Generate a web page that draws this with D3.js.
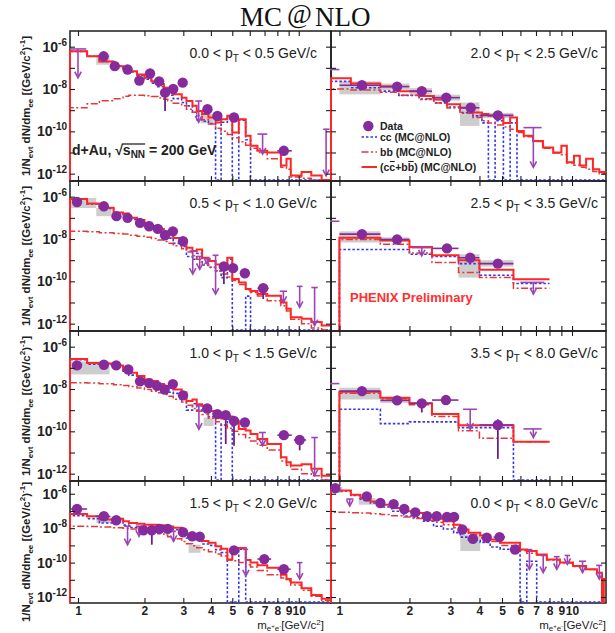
<!DOCTYPE html>
<html>
<head>
<meta charset="utf-8">
<script src="https://cdn.jsdelivr.net/npm/d3@7/dist/d3.min.js"></script>
<style>
  html, body { margin: 0; padding: 0; background: #fff; }
  svg { display: block; }
  svg text { font-family: "Liberation Sans", Arial, Helvetica, sans-serif; fill: #222; }
</style>
</head>
<body>
<svg id="chart" width="615" height="633"></svg>
<script>
// ---------------- axes ----------------
const massRange = [0.92, 14];
const yieldRange = [4.5e-13, 5.5e-6];
const massTicks = [1, 2, 3, 4, 5, 6, 7, 8, 9, 10];
const decadeTicks = [1e-12, 1e-11, 1e-10, 1e-9, 1e-8, 1e-7, 1e-6];
const labelledDecades = [1e-6, 1e-8, 1e-10, 1e-12];

// pT ranges, reading order (left/right, top to bottom)
const ptBins = [["0.0", "0.5"], ["2.0", "2.5"], ["0.5", "1.0"], ["2.5", "3.5"],
                ["1.0", "1.5"], ["3.5", "8.0"], ["1.5", "2.0"], ["0.0", "8.0"]];

// ---------------- MC histogram binning (GeV/c^2) ----------------
const leftEdges = [0.92, 1.1, 1.25, 1.45, 1.6, 1.7, 1.85, 2.0, 2.15, 2.3, 2.45, 2.55, 2.7, 2.95, 3.1, 3.3, 3.45,
                   3.65, 3.9, 4.2, 4.45, 4.75, 5.0, 5.35, 5.75, 6.05, 6.5, 7.2, 8.3, 8.8, 9.2, 10.3, 11.4, 12.7, 14];
const pt2Edges = [0.92, 1.12, 1.5, 1.8, 2.2, 2.55, 2.9, 3.3, 3.75, 4.1, 4.37, 4.67, 5.07, 5.42, 5.8, 6.2, 6.8,
                  7.5, 8.3, 9.0, 9.5, 10.2, 10.8, 11.5, 12.3, 13.1, 14];
const coarseEdges = [1.0, 1.5, 2.0, 2.5, 3.25, 4.0, 5.6, 8.0];
const pt8Edges = [0.92, 1.12, 1.23, 1.36, 1.5, 1.68, 1.89, 2.08, 2.3, 2.54, 2.8, 3.1, 3.31, 3.59, 4.03, 4.45,
                  4.91, 5.98, 6.39, 7.05, 7.79, 8.87, 10.1, 11.5, 12.8, 13.45, 13.7, 14];

// ---------------- 0.0 < pT < 0.5 ----------------
const pt1Sum = [6.0e-7, 3.5e-7, 2.0e-7, 1.2e-7, 1.0e-7, 6.9e-8, 4.9e-8, 3.4e-8, 2.3e-8, 1.7e-8,
                1.15e-8, 7.9e-9, 5.6e-9, 3.9e-9, 2.7e-9, 1.6e-9, 9.1e-10, 6.5e-10, 4.5e-10, 2.6e-10,
                3.7e-10, 5.4e-10, 8.9e-11, 3.7e-10, 6.2e-11, 2.1e-11, 1.2e-11, 1.0e-11, 2.4e-12, 5.0e-12,
                8.1e-13, 1.2e-12, 8.1e-13, 0];
const pt1Cc = [6.0e-7, 3.5e-7, 2.0e-7, 1.2e-7, 9.5e-8, 6.4e-8, 4.4e-8, 2.9e-8, 1.9e-8, 1.3e-8,
               8.2e-9, 5.1e-9, 3.5e-9, 2.3e-9, 1.6e-9, 8.0e-10, 3.5e-10, 3.0e-10, 2.3e-10, 0,
               2.7e-10, 4.7e-10, 0, 3.4e-10, 4.0e-11, 0, 0, 0, 0, 0, 0, 0, 0, 0];
const pt1Bb = [1.3e-9, 2.0e-9, 2.8e-9, 3.5e-9, 4.5e-9, 5.0e-9, 5.0e-9, 4.8e-9, 4.4e-9, 3.8e-9,
               3.3e-9, 2.8e-9, 2.1e-9, 1.6e-9, 1.1e-9, 7.9e-10, 5.6e-10, 3.5e-10, 2.2e-10, 1.4e-10,
               1.0e-10, 7.1e-11, 5.0e-11, 3.2e-11, 2.2e-11, 1.6e-11, 1.0e-11, 5.0e-12, 2.0e-12, 1.6e-12,
               7.0e-13, 6.0e-13, 4.0e-13, 2.0e-13];
// [mass, yield, xLow, xHigh, errLow, errHigh]
const pt1Points = [[1.307, 3.5e-7], [1.468, 1.2e-7], [1.677, 8.3e-8], [1.896, 2.5e-8], [2.12, 5.4e-8],
                   [2.33, 2.3e-8], [2.48, 6.7e-9, null, null, 9.1e-10, 1.0e-8], [2.70, 1.0e-8], [2.98, 2.0e-8],
                   [3.86, 1.1e-9], [4.28, 5.3e-10], [5.09, 4.5e-10], [8.56, 1.2e-11, 8.0, 9.3]];
// [mass, capLow, capHigh, limit, arrowTip]
const pt1Limits = [[1.0, 0.92, 1.09, 7.8e-7, 3.4e-8], [3.52, 3.4, 3.65, 2.7e-9, 2.7e-10],
                   [6.86, 6.5, 7.2, 7.4e-11, 8.5e-12], [13.3, 12.9, 13.8, 1.26e-10, 8.0e-13]];
// [massLow, massHigh, yieldLow, yieldHigh]
const pt1Sys = [[1.21, 1.39, 1.4e-7, 4.2e-7], [3.59, 4.12, 2.4e-10, 6.5e-10]];

// ---------------- 2.0 < pT < 2.5 ----------------
const pt2Sum = [3.2e-8, 1.8e-8, 1.3e-8, 7.9e-9, 4.7e-9, 3.2e-9, 1.9e-9, 1.3e-9, 7.8e-10, 6.5e-10,
                5.4e-10, 4.5e-10, 2.5e-10, 4.5e-10, 1.05e-10, 6.2e-11, 3.5e-11, 1.7e-11, 1.0e-11, 2.1e-11,
                3.5e-12, 7.1e-12, 2.4e-12, 5.0e-12, 1.6e-12, 1.2e-12];
const pt2Cc = [2.3e-8, 1.15e-8, 7.9e-9, 5.0e-9, 3.2e-9, 2.2e-9, 1.4e-9, 7.8e-10, 5.4e-10, 2.5e-10,
               0, 3.2e-10, 0, 2.5e-10, 0, 0, 0, 0, 0, 0, 0, 0, 0, 0, 0, 0];
const pt2Bb = [1.0e-8, 8.9e-9, 7.1e-9, 5.0e-9, 3.5e-9, 2.2e-9, 1.26e-9, 7.1e-10, 4.5e-10, 3.2e-10,
               2.5e-10, 2.0e-10, 1.6e-10, 1.26e-10, 8.9e-11, 5.6e-11, 3.3e-11, 1.6e-11, 9.5e-12, 7.9e-12,
               3.2e-12, 2.5e-12, 2.0e-12, 1.6e-12, 1.26e-12, 1.0e-12];
const pt2Points = [[1.25, 1.5e-8, 1.0, 1.5], [1.77, 1.3e-8, 1.5, 2.0], [2.26, 7.9e-9, 2.0, 2.5],
                   [2.88, 3.9e-9, 2.5, 3.3], [3.67, 1.3e-9, 3.3, 4.0], [4.8, 5.7e-10, 4.0, 5.6]];
const pt2Limits = [[0.88, 0.8, 1.0, 8.3e-8, 8.3e-8], [6.82, 6.18, 7.4, 1.5e-10, 2.0e-12]];
const pt2Sys = [[1.0, 1.5, 5.6e-9, 2.3e-8], [1.5, 2.0, 9.0e-9, 1.8e-8], [2.0, 2.5, 5.5e-9, 1.1e-8],
                [2.5, 3.3, 2.8e-9, 5.4e-9], [3.3, 4.0, 1.8e-10, 2.3e-9], [4.0, 5.6, 4.2e-10, 7.5e-10]];

// ---------------- 0.5 < pT < 1.0 ----------------
const pt3Sum = [7.8e-7, 4.7e-7, 3.0e-7, 1.8e-7, 1.6e-7, 1.0e-7, 7.8e-8, 5.8e-8, 4.1e-8, 3.0e-8,
                2.3e-8, 1.7e-8, 1.1e-8, 7.9e-9, 3.9e-9, 2.7e-9, 3.2e-9, 1.3e-9, 9.1e-10, 6.3e-10,
                3.7e-10, 1.3e-9, 1.3e-10, 8.9e-11, 4.4e-11, 3.5e-11, 2.5e-11, 2.1e-11, 1.0e-11, 5.0e-12,
                2.0e-12, 1.7e-12, 1.2e-12, 8.1e-13];
const pt3Cc = [7.6e-7, 4.5e-7, 2.8e-7, 1.6e-7, 1.4e-7, 8.5e-8, 6.5e-8, 4.6e-8, 3.0e-8, 2.1e-8,
               1.5e-8, 1.1e-8, 6.2e-9, 4.4e-9, 1.5e-9, 1.1e-9, 2.1e-9, 5.9e-10, 4.6e-10, 3.1e-10,
               1.5e-10, 1.1e-9, 0, 0, 2.0e-11, 0, 0, 0, 0, 0, 0, 0, 0, 0];
const pt3Bb = [2.3e-8, 2.2e-8, 2.0e-8, 1.8e-8, 1.7e-8, 1.5e-8, 1.35e-8, 1.2e-8, 1.05e-8, 8.9e-9,
               7.6e-9, 6.3e-9, 4.8e-9, 3.5e-9, 2.4e-9, 1.6e-9, 1.1e-9, 7.1e-10, 4.5e-10, 3.2e-10,
               2.2e-10, 1.6e-10, 1.1e-10, 7.0e-11, 4.0e-11, 3.0e-11, 2.0e-11, 1.2e-11, 7.0e-12, 4.0e-12,
               1.6e-12, 1.0e-12, 6.3e-13, 4.0e-13];
const pt3Points = [[0.99, 5.6e-7], [1.31, 3.5e-7], [1.494, 1.2e-7], [1.677, 1.0e-7], [1.91, 5.8e-8],
                   [2.10, 4.0e-8], [2.30, 3.0e-8], [2.48, 1.5e-8], [2.69, 2.3e-8], [2.99, 7.9e-9],
                   [4.58, 5.0e-10, null, null, 7.4e-11, 7.5e-10], [5.04, 4.2e-10], [5.7, 2.4e-10],
                   [6.9, 4.7e-11, 6.5, 7.3, 1.45e-11, 7.0e-11]];
const pt3Limits = [[3.31, 3.2, 3.42, 2.7e-9, 2.2e-10], [3.56, 3.45, 3.67, 1.5e-9, 3.7e-10],
                   [3.85, 3.75, 3.95, 1.2e-9, 6.5e-10], [4.2, 4.07, 4.33, 1.7e-9, 2.5e-11],
                   [8.52, 8.2, 8.85, 3.4e-11, 1.0e-11], [10.1, 9.8, 10.4, 5.8e-11, 5.9e-12],
                   [11.8, 11.4, 12.2, 5.1e-11, 8.1e-13]];
const pt3Sys = [[0.93, 1.21, 2.9e-7, 8.7e-7], [1.21, 1.42, 1.2e-7, 2.9e-7]];

// ---------------- 2.5 < pT < 3.5 ----------------
const pt4Sum = [1.15e-8, 8.5e-9, 4.2e-9, 1.7e-9, 1.0e-9, 3.5e-10, 1.26e-10];
const pt4Cc = [3.2e-9, 3.2e-9, 1.9e-9, 1.5e-9, 6.9e-10, 1.95e-10, 7.9e-11];
const pt4Bb = [9.5e-9, 5.6e-9, 2.2e-9, 7.8e-10, 2.6e-10, 1.5e-10, 4.7e-11];
const pt4Points = [[1.25, 1.7e-8, 1.0, 1.5], [1.77, 9.5e-9, 1.5, 2.0], [2.9, 3.6e-9, 2.5, 3.25],
                   [3.65, 1.3e-9, 3.25, 4.0], [4.8, 6.9e-10, 4.0, 5.6]];
const pt4Limits = [[0.88, 0.8, 1.0, 6.9e-8, 6.9e-8], [2.26, 2.05, 2.5, 3.9e-9, 1.6e-9],
                   [6.82, 6.0, 7.6, 8.9e-11, 2.5e-11]];
const pt4Sys = [[1.0, 1.5, 6.8e-9, 2.3e-8], [1.5, 2.0, 7.5e-9, 1.2e-8], [3.25, 4.0, 1.5e-10, 1.9e-9],
                [4.0, 5.6, 5.0e-10, 1.0e-9]];

// ---------------- 1.0 < pT < 1.5 ----------------
const pt5Sum = [2.6e-7, 1.7e-7, 1.6e-7, 1.3e-7, 8.3e-8, 5.8e-8, 4.1e-8, 2.8e-8, 2.4e-8, 1.7e-8,
                1.4e-8, 1.15e-8, 9.5e-9, 6.8e-9, 2.7e-9, 3.2e-9, 1.9e-9, 1.6e-9, 9.1e-10, 5.8e-10,
                4.0e-10, 5.0e-10, 3.2e-10, 1.3e-10, 1.1e-10, 7.4e-11, 4.3e-11, 2.5e-11, 5.9e-12, 3.5e-12,
                2.4e-12, 2.8e-12, 1.7e-12, 7.9e-13];
const pt5Cc = [2.4e-7, 1.5e-7, 1.4e-7, 1.15e-7, 6.9e-8, 4.5e-8, 3.0e-8, 1.9e-8, 1.6e-8, 1.05e-8,
               8.5e-9, 7.0e-9, 6.2e-9, 4.4e-9, 1.0e-9, 2.0e-9, 1.0e-9, 9.7e-10, 4.9e-10, 0,
               2.0e-10, 3.6e-10, 0, 0, 0, 0, 0, 0, 0, 0, 0, 0, 0, 0];
const pt5Bb = [1.95e-8, 1.9e-8, 1.75e-8, 1.6e-8, 1.45e-8, 1.3e-8, 1.1e-8, 9.5e-9, 7.9e-9, 6.6e-9,
               5.5e-9, 4.5e-9, 3.3e-9, 2.4e-9, 1.7e-9, 1.2e-9, 8.9e-10, 6.3e-10, 4.2e-10, 2.8e-10,
               2.0e-10, 1.4e-10, 1.0e-10, 7.1e-11, 5.0e-11, 3.5e-11, 2.2e-11, 1.3e-11, 4.0e-12, 2.5e-12,
               1.6e-12, 1.0e-12, 7.9e-13, 5.0e-13];
const pt5Points = [[0.99, 1.3e-7], [1.31, 1.4e-7], [1.49, 1.3e-7], [1.69, 8.3e-8], [1.91, 2.3e-8],
                   [2.10, 1.9e-8], [2.28, 1.4e-8], [2.47, 9.5e-9], [2.69, 1.7e-8], [2.99, 5.0e-9],
                   [3.85, 1.2e-9], [4.28, 6.5e-10], [4.67, 5.8e-10, null, null, 2.5e-11, 8.0e-10],
                   [5.09, 3.1e-10, null, null, 2.1e-11, 4.5e-10], [5.7, 2.6e-10, 5.4, 6.0],
                   [8.56, 6.6e-11, 8.0, 9.3], [10.1, 3.9e-11, 9.5, 10.8, 1.26e-11, 6.0e-11]];
const pt5Limits = [[3.53, 3.42, 3.65, 1.6e-9, 1.26e-10], [6.86, 6.6, 7.1, 8.8e-11, 2.1e-11],
                   [11.8, 11.4, 12.2, 5.1e-11, 8.1e-13]];
const pt5Sys = [[0.93, 1.39, 4.9e-8, 2.0e-7], [3.71, 4.12, 1.8e-10, 4.5e-10]];

// ---------------- 3.5 < pT < 8.0 ----------------
const pt6Sum = [7.4e-9, 3.9e-9, 2.1e-9, 6.5e-10, 1.95e-10, 1.95e-10, 3.2e-11];
const pt6Cc = [1.1e-9, 2.3e-10, 2.8e-10, 2.8e-10, 1.5e-10, 1.5e-10, 0];
const pt6Bb = [6.3e-9, 3.5e-9, 1.8e-9, 5.0e-10, 1.07e-10, 4.7e-11, 3.2e-11];
const pt6Points = [[1.25, 7.9e-9, 1.0, 1.5], [1.77, 2.9e-9, 1.5, 2.0], [2.26, 2.1e-9, 2.0, 2.5, 7.8e-10, 3.0e-9],
                   [2.87, 3.0e-9, 2.5, 3.25], [4.8, 2.0e-10, 4.0, 5.6, 5.0e-12, 3.7e-10]];
const pt6Limits = [[0.88, 0.8, 1.0, 1.8e-8, 1.8e-8], [3.65, 3.4, 3.9, 1.1e-9, 1.26e-10],
                   [6.82, 6.18, 7.4, 1.3e-10, 5.1e-11]];
const pt6Sys = [[1.0, 1.5, 3.2e-9, 1.15e-8], [1.5, 2.0, 2.2e-9, 3.8e-9]];

// ---------------- 1.5 < pT < 2.0 ----------------
const pt7Sum = [6.6e-8, 4.9e-8, 3.2e-8, 3.5e-8, 2.5e-8, 2.0e-8, 1.8e-8, 1.6e-8, 1.6e-8, 1.5e-8,
                1.4e-8, 1.26e-8, 1.05e-8, 7.1e-9, 4.0e-9, 3.2e-9, 2.8e-9, 1.8e-9, 1.4e-9, 8.9e-10,
                6.3e-10, 1.5e-10, 6.3e-10, 7.1e-10, 1.4e-10, 1.0e-10, 7.1e-11, 5.0e-11, 2.0e-11, 1.1e-11,
                6.9e-12, 3.2e-12, 1.3e-12, 7.9e-13];
const pt7Cc = [5.3e-8, 3.6e-8, 2.0e-8, 2.4e-8, 1.5e-8, 1.1e-8, 1.0e-8, 9.1e-9, 1.0e-8, 1.0e-8,
               1.0e-8, 9.4e-9, 8.1e-9, 5.4e-9, 2.7e-9, 2.25e-9, 2.1e-9, 1.2e-9, 1.0e-9, 5.7e-10,
               3.9e-10, 0, 0, 6.1e-10, 0, 0, 0, 0, 0, 0, 0, 0, 0, 0];
const pt7Bb = [1.3e-8, 1.26e-8, 1.17e-8, 1.07e-8, 1.0e-8, 8.9e-9, 7.9e-9, 6.9e-9, 5.8e-9, 4.8e-9,
               4.0e-9, 3.2e-9, 2.4e-9, 1.7e-9, 1.26e-9, 9.5e-10, 7.4e-10, 5.6e-10, 4.2e-10, 3.2e-10,
               2.4e-10, 1.4e-10, 1.3e-10, 1.0e-10, 7.6e-11, 5.6e-11, 3.5e-11, 2.0e-11, 1.26e-11, 8.9e-12,
               5.0e-12, 2.5e-12, 1.1e-12, 6.3e-13];
const pt7Points = [[0.99, 1.3e-7, 0.93, 1.1], [1.31, 4.9e-8, 1.2, 1.4], [1.49, 2.9e-8], [1.98, 7.6e-9],
                   [2.16, 7.6e-9, null, null, 1.1e-9, 1.2e-8], [2.34, 9.1e-9], [2.55, 9.1e-9], [2.99, 5.8e-9],
                   [3.29, 3.4e-9], [3.56, 3.2e-9], [5.09, 5.1e-10], [6.98, 1.6e-10, 6.5, 7.5],
                   [8.56, 4.1e-11, 8.0, 9.2]];
const pt7Limits = [[1.677, 1.62, 1.74, 1.3e-8, 1.1e-9], [1.89, 1.83, 1.95, 1.3e-8, 3.4e-9],
                   [2.71, 2.64, 2.78, 6.6e-9, 1.7e-9], [5.76, 5.6, 5.9, 5.8e-10, 1.7e-11],
                   [10.1, 9.8, 10.4, 1.0e-10, 1.1e-11]];
const pt7Sys = [[1.21, 1.42, 2.0e-8, 4.9e-8], [3.17, 3.59, 3.7e-10, 1.1e-9]];

// ---------------- 0.0 < pT < 8.0 ----------------
const pt8Sum = [1.55e-6, 8.7e-7, 5.6e-7, 3.6e-7, 2.3e-7, 1.5e-7, 9.5e-8, 7.6e-8, 5.4e-8, 3.5e-8,
                2.5e-8, 1.6e-8, 8.3e-9, 5.4e-9, 3.7e-9, 2.2e-9, 1.4e-9, 5.8e-10, 4.7e-10, 3.0e-10,
                1.5e-10, 1.0e-10, 6.3e-11, 4.1e-11, 2.6e-11, 0, 1.1e-11];
const pt8Cc = [1.47e-6, 7.9e-7, 4.8e-7, 2.9e-7, 1.7e-7, 9.7e-8, 5.1e-8, 4.0e-8, 2.5e-8, 1.3e-8,
               9.0e-9, 5.5e-9, 3.0e-9, 2.0e-9, 1.5e-9, 8.0e-10, 6.0e-10, 0, 1.2e-10, 0,
               0, 0, 0, 0, 0, 0, 0];
const pt8Bb = [8.3e-8, 8.0e-8, 7.6e-8, 7.0e-8, 6.2e-8, 5.3e-8, 4.4e-8, 3.6e-8, 2.9e-8, 2.2e-8,
               1.6e-8, 1.05e-8, 6.8e-9, 4.3e-9, 2.7e-9, 1.7e-9, 1.0e-9, 5.0e-10, 3.5e-10, 2.8e-10,
               1.4e-10, 9.5e-11, 6.0e-11, 4.0e-11, 2.5e-11, 1.5e-11, 1.0e-11];
const pt8Points = [[0.96, 2.1e-6], [1.31, 6.9e-7], [1.5, 2.9e-7], [1.71, 2.5e-7], [1.9, 1.3e-7],
                   [2.12, 8.3e-8], [2.38, 4.9e-8], [2.62, 4.9e-8], [2.9, 4.5e-8], [3.11, 4.5e-8],
                   [3.38, 8.3e-9], [3.75, 2.4e-9], [4.3, 2.8e-9], [4.88, 3.0e-9, 4.6, 5.15], [5.69, 5.8e-10]];
const pt8Limits = [[1.108, 1.07, 1.15, 4.9e-7, 1.9e-7], [6.56, 6.4, 6.75, 5.7e-10, 4.1e-11],
                   [7.52, 7.3, 7.75, 2.6e-10, 2.6e-11], [8.6, 8.35, 8.85, 2.2e-10, 4.1e-11],
                   [9.55, 9.3, 9.8, 2.6e-10, 7.9e-11], [11.1, 10.7, 11.5, 1.2e-10, 2.6e-11],
                   [13.1, 12.7, 13.5, 6.9e-11, 1.1e-11]];
const pt8Sys = [[0.93, 1.03, 1.1e-6, 2.6e-6], [1.21, 1.43, 2.3e-7, 5.6e-7], [3.31, 4.03, 4.7e-10, 4.3e-9]];

// ---------------- panel table ----------------
const panels = [
  { row: 0, col: 0, pt: ptBins[0], edges: leftEdges,   sum: pt1Sum, cc: pt1Cc, bb: pt1Bb, pts: pt1Points, lims: pt1Limits, sys: pt1Sys },
  { row: 0, col: 1, pt: ptBins[1], edges: pt2Edges,    sum: pt2Sum, cc: pt2Cc, bb: pt2Bb, pts: pt2Points, lims: pt2Limits, sys: pt2Sys },
  { row: 1, col: 0, pt: ptBins[2], edges: leftEdges,   sum: pt3Sum, cc: pt3Cc, bb: pt3Bb, pts: pt3Points, lims: pt3Limits, sys: pt3Sys },
  { row: 1, col: 1, pt: ptBins[3], edges: coarseEdges, sum: pt4Sum, cc: pt4Cc, bb: pt4Bb, pts: pt4Points, lims: pt4Limits, sys: pt4Sys },
  { row: 2, col: 0, pt: ptBins[4], edges: leftEdges,   sum: pt5Sum, cc: pt5Cc, bb: pt5Bb, pts: pt5Points, lims: pt5Limits, sys: pt5Sys },
  { row: 2, col: 1, pt: ptBins[5], edges: coarseEdges, sum: pt6Sum, cc: pt6Cc, bb: pt6Bb, pts: pt6Points, lims: pt6Limits, sys: pt6Sys },
  { row: 3, col: 0, pt: ptBins[6], edges: leftEdges,   sum: pt7Sum, cc: pt7Cc, bb: pt7Bb, pts: pt7Points, lims: pt7Limits, sys: pt7Sys },
  { row: 3, col: 1, pt: ptBins[7], edges: pt8Edges,    sum: pt8Sum, cc: pt8Cc, bb: pt8Bb, pts: pt8Points, lims: pt8Limits, sys: pt8Sys }
];

// ---------------- drawing ----------------
const COL = {
  data: "#862b9c", err: "#6e2088", lim: "#9c45b4", sys: "#c8c8c8",
  sum: "#ff2626", bb: "#e4383a", cc: "#3636e8", frame: "#1c1c1c"
};
const colSpan = [[70, 331], [331, 606]];
const rowSpan = [[31, 181], [181, 331], [331, 481], [481, 603]];

const svg = d3.select("#chart");
svg.append("rect").attr("width", 615).attr("height", 633).attr("fill", "#fff");

function levelY(y, v, bottom) {
  return v > 0 ? Math.min(y(v), bottom - 1) : bottom - 1;
}
function stepPath(edges, vals, x, y, bottom) {
  const p = d3.path();
  p.moveTo(x(edges[0]), bottom);
  vals.forEach((v, i) => {
    const yy = levelY(y, v, bottom);
    p.lineTo(x(edges[i]), yy);
    p.lineTo(x(edges[i + 1]), yy);
  });
  return p.toString();
}
function cleanAxis(g) {
  g.select(".domain").remove();
  g.selectAll("line").attr("stroke", COL.frame).attr("stroke-width", 1.1);
  g.selectAll("text").remove();
}

panels.forEach((p, i) => {
  const [x0, x1] = colSpan[p.col];
  const [y0, y1] = rowSpan[p.row];
  const x = d3.scaleLog().domain(massRange).range([x0, x1]);
  const y = d3.scaleLog().domain(yieldRange).range([y1, y0]);

  // frame
  svg.append("rect").attr("x", x0).attr("y", y0).attr("width", x1 - x0).attr("height", y1 - y0)
    .attr("fill", "none").attr("stroke", COL.frame).attr("stroke-width", 1.5);

  const clipId = "panel-clip-" + i;
  svg.append("clipPath").attr("id", clipId).append("rect")
    .attr("x", x0 - 1).attr("y", y0 - 1).attr("width", x1 - x0 + 2).attr("height", y1 - y0 + 2);
  const g = svg.append("g").attr("clip-path", `url(#${clipId})`);

  // systematic boxes
  g.selectAll("rect.sys").data(p.sys).join("rect").attr("class", "sys")
    .attr("x", d => x(d[0])).attr("width", d => x(d[1]) - x(d[0]))
    .attr("y", d => y(d[3])).attr("height", d => y(d[2]) - y(d[3]))
    .attr("fill", COL.sys).attr("opacity", 0.9);

  // MC histograms
  g.append("path").attr("d", stepPath(p.edges, p.cc, x, y, y1))
    .attr("fill", "none").attr("stroke", COL.cc).attr("stroke-width", 1.6).attr("stroke-dasharray", "2.5,2");
  g.append("path").attr("d", stepPath(p.edges, p.bb, x, y, y1))
    .attr("fill", "none").attr("stroke", COL.bb).attr("stroke-width", 1.5).attr("stroke-dasharray", "7,2.5,2,2.5");
  g.append("path").attr("d", stepPath(p.edges, p.sum, x, y, y1))
    .attr("fill", "none").attr("stroke", COL.sum).attr("stroke-width", 2);

  // upper limits
  p.lims.forEach(d => {
    const cx = x(d[0]), yc = y(d[3]), yt = y(d[4]);
    g.append("line").attr("x1", x(d[1])).attr("x2", x(d[2])).attr("y1", yc).attr("y2", yc)
      .attr("stroke", COL.lim).attr("stroke-width", 1.6);
    if (d[4] < d[3]) {
      const tip = Math.min(yt, y1 - 1);
      g.append("line").attr("x1", cx).attr("x2", cx).attr("y1", yc).attr("y2", tip)
        .attr("stroke", COL.lim).attr("stroke-width", 1.6);
      g.append("path").attr("d", `M${cx - 3.2},${tip - 6}L${cx},${tip}L${cx + 3.2},${tip - 6}`)
        .attr("fill", "none").attr("stroke", COL.lim).attr("stroke-width", 1.6);
    }
  });

  // data: x bars, error bars, markers
  p.pts.filter(d => d[2] != null).forEach(d => {
    g.append("line").attr("x1", x(d[2])).attr("x2", x(d[3])).attr("y1", y(d[1])).attr("y2", y(d[1]))
      .attr("stroke", COL.data).attr("stroke-width", 1.6);
  });
  p.pts.filter(d => d[4] != null).forEach(d => {
    g.append("line").attr("x1", x(d[0])).attr("x2", x(d[0])).attr("y1", y(d[5])).attr("y2", Math.min(y(d[4]), y1))
      .attr("stroke", COL.err).attr("stroke-width", 1.8);
  });
  g.selectAll("circle.pt").data(p.pts).join("circle").attr("class", "pt")
    .attr("cx", d => x(d[0])).attr("cy", d => y(d[1])).attr("r", 5.2).attr("fill", COL.data);

  // tick marks on all four sides
  svg.append("g").attr("transform", `translate(0,${y1})`)
    .call(d3.axisBottom(x).tickValues(massTicks).tickSize(-5).tickFormat("")).call(cleanAxis);
  svg.append("g").attr("transform", `translate(0,${y0})`)
    .call(d3.axisTop(x).tickValues(massTicks).tickSize(-5).tickFormat("")).call(cleanAxis);
  svg.append("g").attr("transform", `translate(${x0},0)`)
    .call(d3.axisLeft(y).tickValues(decadeTicks).tickSize(-5).tickFormat("")).call(cleanAxis);
  svg.append("g").attr("transform", `translate(${x1},0)`)
    .call(d3.axisRight(y).tickValues(decadeTicks).tickSize(-5).tickFormat("")).call(cleanAxis);

  // mass labels on the bottom row
  if (p.row === 3) {
    const ax = svg.append("g").attr("transform", `translate(0,${y1})`)
      .call(d3.axisBottom(x).tickValues(massTicks).tickSize(0).tickPadding(3).tickFormat(d3.format("d")));
    ax.select(".domain").remove();
    ax.selectAll("text").style("font-family", '"Liberation Sans", Arial, sans-serif')
      .attr("font-size", 12).attr("font-weight", "bold").attr("fill", "#222");

    const xt = svg.append("text").attr("x", p.col === 0 ? 324 : 606).attr("y", 629)
      .attr("text-anchor", "end").attr("font-size", 11.5);
    xt.append("tspan").text("m");
    xt.append("tspan").attr("font-size", 8).attr("dy", 1.5).text("e");
    xt.append("tspan").attr("font-size", 6).attr("dy", -3).text("+");
    xt.append("tspan").attr("font-size", 8).attr("dy", 3).text("e");
    xt.append("tspan").attr("font-size", 6).attr("dy", -3).text("-");
    xt.append("tspan").attr("font-size", 11.5).attr("dy", 1.5).text("[GeV/c");
    xt.append("tspan").attr("font-size", 8).attr("dy", -4).text("2");
    xt.append("tspan").attr("font-size", 11.5).attr("dy", 4).text("]");
  }

  // yield labels and title on the left column
  if (p.col === 0) {
    labelledDecades.forEach(v => {
      const t = svg.append("text").attr("x", x0 - 3).attr("y", y(v) + 5)
        .attr("text-anchor", "end").attr("font-size", 14).attr("font-weight", "bold");
      t.append("tspan").text("10");
      t.append("tspan").attr("font-size", 10).attr("dy", -6).text(String(Math.round(Math.log10(v))));
    });
    const cy = p.row < 3 ? (y0 + y1) / 2 : 552;
    const yt = svg.append("text").attr("transform", `translate(30,${cy}) rotate(-90)`)
      .attr("text-anchor", "middle").attr("font-size", 11.5).attr("font-weight", "bold");
    yt.append("tspan").text("1/N");
    yt.append("tspan").attr("font-size", 8).attr("dy", 3).text("evt");
    yt.append("tspan").attr("font-size", 11.5).attr("dy", -3).text(" dN/dm");
    yt.append("tspan").attr("font-size", 8).attr("dy", 3).text("ee");
    yt.append("tspan").attr("font-size", 11.5).attr("dy", -3).text(" [(GeV/c");
    yt.append("tspan").attr("font-size", 8).attr("dy", -5).text("2");
    yt.append("tspan").attr("font-size", 11.5).attr("dy", 5).text(")");
    yt.append("tspan").attr("font-size", 8).attr("dy", -5).text("-1");
    yt.append("tspan").attr("font-size", 11.5).attr("dy", 5).text("]");
  }

  // pT range label
  const lt = svg.append("text").attr("x", p.col === 0 ? x1 - 14 : x1 - 8).attr("y", y0 + 27)
    .attr("text-anchor", "end").attr("font-size", 14);
  lt.append("tspan").text(`${p.pt[0]} < p`);
  lt.append("tspan").attr("font-size", 10).attr("dy", 4).text("T");
  lt.append("tspan").attr("font-size", 14).attr("dy", -4).text(` < ${p.pt[1]} GeV/c`);
});

// ---------------- title ----------------
const title = svg.append("text").attr("x", 240).attr("y", 26).attr("font-size", 27)
  .style("font-family", '"Liberation Serif", "Times New Roman", serif').style("fill", "#111");
title.append("tspan").text("MC");
title.append("tspan").attr("dx", 5).attr("dy", -3).text("@");
title.append("tspan").attr("dx", 3).attr("dy", 3).text("NLO");

// ---------------- collision system ----------------
const sys = svg.append("text").attr("x", 72).attr("y", 155).attr("font-size", 14).attr("font-weight", "bold");
sys.append("tspan").text("d+Au, \u221As");
sys.append("tspan").attr("font-size", 10).attr("dy", 3).text("NN");
sys.append("tspan").attr("font-size", 14).attr("dy", -3).text(" = 200 GeV");
{
  const n = sys.node();
  const a = n.getStartPositionOfChar(7).x, b = n.getEndPositionOfChar(9).x;
  svg.append("line").attr("x1", a - 1).attr("x2", b).attr("y1", 144).attr("y2", 144)
    .attr("stroke", "#222").attr("stroke-width", 1.3);
}

// ---------------- legend ----------------
const legendLabels = ["Data", "cc (MC@NLO)", "bb (MC@NLO)", "(cc+bb) (MC@NLO)"];
const legendY = [126, 137, 152, 167];
const leg = svg.append("g");
leg.append("circle").attr("cx", 368.3).attr("cy", legendY[0]).attr("r", 5.2).attr("fill", COL.data);
leg.append("line").attr("x1", 361.5).attr("x2", 377).attr("y1", legendY[1]).attr("y2", legendY[1])
  .attr("stroke", COL.cc).attr("stroke-width", 1.6).attr("stroke-dasharray", "2.5,2");
leg.append("line").attr("x1", 361.5).attr("x2", 377).attr("y1", legendY[2]).attr("y2", legendY[2])
  .attr("stroke", COL.bb).attr("stroke-width", 1.5).attr("stroke-dasharray", "7,2.5,2,2.5");
leg.append("line").attr("x1", 361.5).attr("x2", 377).attr("y1", legendY[3]).attr("y2", legendY[3])
  .attr("stroke", COL.sum).attr("stroke-width", 2);
const legTexts = legendLabels.map((s, k) => leg.append("text").attr("x", 380).attr("y", legendY[k] + 3.8)
  .attr("font-size", 10.5).attr("font-weight", "bold").text(s));
{
  const n = legTexts[3].node();
  [2, 5].forEach(ci => {
    const a = n.getStartPositionOfChar(ci).x, b = n.getEndPositionOfChar(ci).x;
    leg.append("line").attr("x1", a + 0.5).attr("x2", b - 0.5)
      .attr("y1", legendY[3] - 5.5).attr("y2", legendY[3] - 5.5).attr("stroke", "#222").attr("stroke-width", 1.1);
  });
}

// ---------------- preliminary tag ----------------
svg.append("text").attr("x", 350).attr("y", 302).attr("font-size", 13).attr("font-weight", "bold")
  .style("fill", "#ff3030").text("PHENIX Preliminary");
</script>
</body>
</html>
